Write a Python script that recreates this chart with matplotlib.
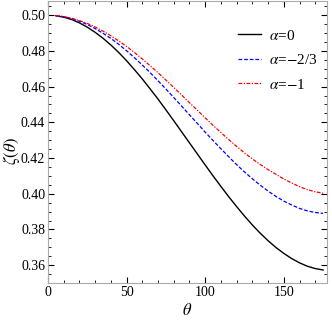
import matplotlib
matplotlib.use("Agg")
import matplotlib.pyplot as plt
from matplotlib.ticker import MultipleLocator, FormatStrFormatter

plt.rcParams['font.family'] = ['Liberation Serif', 'DejaVu Serif']
plt.rcParams['mathtext.fontset'] = 'stix'

theta = [5, 10, 15, 20, 25, 30, 35, 40, 45, 50, 55, 60, 65, 70, 75, 80, 85, 90,
         95, 100, 105, 110, 115, 120, 125, 130, 135, 140, 145, 150, 155, 160, 165, 170, 175]
zeta_a0 = [0.4997, 0.4989, 0.4976, 0.4957, 0.4933, 0.4904, 0.4871, 0.4833, 0.4791,
           0.4745, 0.4695, 0.4643, 0.4587, 0.4530, 0.4470, 0.4409, 0.4347, 0.4285,
           0.4223, 0.4161, 0.4100, 0.4041, 0.3983, 0.3928, 0.3875, 0.3825, 0.3779,
           0.3737, 0.3699, 0.3666, 0.3637, 0.3613, 0.3594, 0.3581, 0.3573]
zeta_a23 = [0.4998, 0.4991, 0.4981, 0.4966, 0.4948, 0.4925, 0.4899, 0.4870, 0.4837,
            0.4801, 0.4762, 0.4721, 0.4678, 0.4633, 0.4587, 0.4539, 0.4491, 0.4442,
            0.4394, 0.4345, 0.4298, 0.4252, 0.4207, 0.4163, 0.4122, 0.4084, 0.4048,
            0.4015, 0.3985, 0.3959, 0.3937, 0.3918, 0.3904, 0.3895, 0.3890]
zeta_a1 = [0.4998, 0.4993, 0.4983, 0.4970, 0.4954, 0.4934, 0.4911, 0.4885, 0.4856,
           0.4825, 0.4791, 0.4755, 0.4717, 0.4678, 0.4637, 0.4595, 0.4553, 0.4510,
           0.4468, 0.4425, 0.4383, 0.4343, 0.4303, 0.4265, 0.4229, 0.4195, 0.4164,
           0.4135, 0.4109, 0.4083, 0.4060, 0.4040, 0.4023, 0.4011, 0.4003]
labels = [r'$\alpha$=0', r'$\alpha$=$-$2/3', r'$\alpha$=$-$1']

fig = plt.figure(figsize=(3.32, 3.24), dpi=100)
ax = fig.add_axes([0.1446, 0.1265, 0.985 - 0.1446, 0.996 - 0.1265])

ax.plot(theta, zeta_a0, color='black', lw=1.0, label=labels[0])
ax.plot(theta, zeta_a23, color='blue', lw=0.9, linestyle=(0, (3, 1.5)), label=labels[1])
ax.plot(theta, zeta_a1, color='red', lw=0.9, linestyle=(0, (3, 1.2, 1, 1.2)), label=labels[2])

ax.set_xlim(0, 177.5)
ax.set_ylim(0.35, 0.5078)
ax.xaxis.set_major_locator(MultipleLocator(50))
ax.xaxis.set_minor_locator(MultipleLocator(10))
ax.yaxis.set_major_locator(MultipleLocator(0.02))
ax.yaxis.set_minor_locator(MultipleLocator(0.005))
ax.yaxis.set_major_formatter(FormatStrFormatter('%.2f'))

for s in ax.spines.values():
    s.set_color('#aaaaaa')
    s.set_linewidth(0.8)
ax.tick_params(which='both', direction='in', top=True, right=True, color='black',
               labelsize=10, pad=2)
ax.tick_params(which='major', length=4, width=0.8)
ax.tick_params(which='minor', length=2, width=0.6)

ax.set_xlabel(r'$\theta$', fontsize=12, labelpad=3)
ax.set_ylabel(r'$\zeta(\theta)$', fontsize=12)
ax.yaxis.set_label_coords(-0.093, 0.47)

leg = ax.legend(loc='upper left', bbox_to_anchor=(0.66, 0.924), frameon=False, fontsize=11,
                handlelength=1.5, handletextpad=0.5, labelspacing=0.68, borderaxespad=0)

fig.savefig('out.png', dpi=100)
